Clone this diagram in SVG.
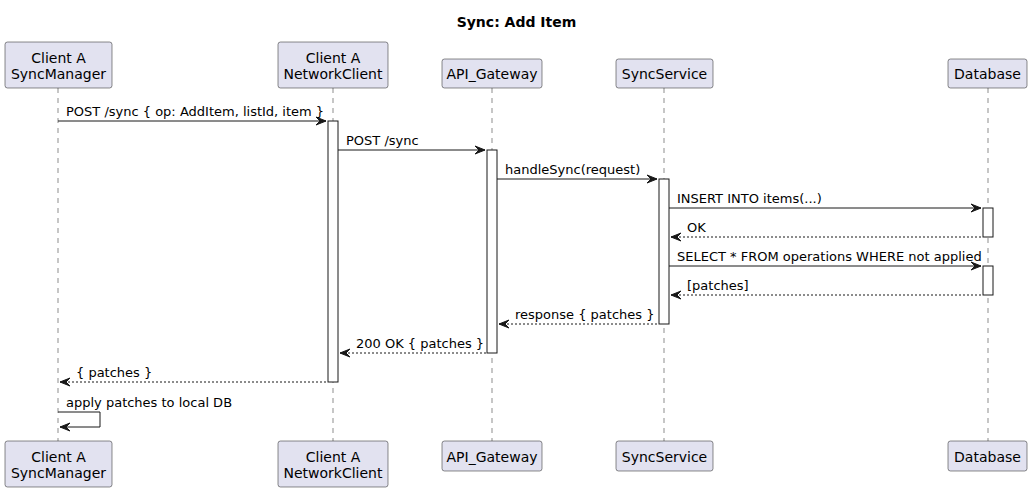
<svg xmlns="http://www.w3.org/2000/svg" width="1033" height="493" viewBox="0 0 1033 493">
<style>
  .bg{fill:#FFFFFF}
  .title{font-family:"DejaVu Sans",sans-serif;font-size:14px;font-weight:bold;fill:#000000}
  .pbox{fill:#E2E2F0;stroke:#181818;stroke-width:0.5}
  .ptext{font-family:"DejaVu Sans",sans-serif;font-size:14px;fill:#000000;text-anchor:middle}
  .life{stroke:#181818;stroke-width:0.5;stroke-dasharray:5,5;fill:none}
  .act{fill:#FFFFFF;stroke:#181818;stroke-width:1}
  .msg{stroke:#181818;stroke-width:1;fill:none}
  .ret{stroke:#181818;stroke-width:1;fill:none;stroke-dasharray:2,2}
  .head{fill:#181818;stroke:#181818;stroke-width:1}
  .mtext{font-family:"DejaVu Sans",sans-serif;font-size:13px;fill:#000000}
</style>
<rect class="bg" x="0" y="0" width="1033" height="493"/>
<text class="title" x="516.5" y="27" text-anchor="middle">Sync: Add Item</text>

<g id="lifelines">
  <line class="life" x1="58" y1="88" x2="58" y2="441"/>
  <line class="life" x1="333" y1="88" x2="333" y2="441"/>
  <line class="life" x1="492" y1="88" x2="492" y2="441"/>
  <line class="life" x1="664" y1="88" x2="664" y2="441"/>
  <line class="life" x1="988" y1="88" x2="988" y2="441"/>
</g>

<g id="SyncManager">
  <rect class="pbox" x="5" y="42" width="107" height="46" rx="2.5"/>
  <text class="ptext" x="58.5" y="62.5">Client A</text>
  <text class="ptext" x="58.5" y="79">SyncManager</text>
  <rect class="pbox" x="5" y="441" width="107" height="46" rx="2.5"/>
  <text class="ptext" x="58.5" y="461.5">Client A</text>
  <text class="ptext" x="58.5" y="478">SyncManager</text>
</g>
<g id="NetworkClient">
  <rect class="pbox" x="278" y="42" width="110" height="46" rx="2.5"/>
  <text class="ptext" x="333" y="62.5">Client A</text>
  <text class="ptext" x="333" y="79">NetworkClient</text>
  <rect class="pbox" x="278" y="441" width="110" height="46" rx="2.5"/>
  <text class="ptext" x="333" y="461.5">Client A</text>
  <text class="ptext" x="333" y="478">NetworkClient</text>
</g>
<g id="API_Gateway">
  <rect class="pbox" x="442" y="59" width="100" height="29" rx="2.5"/>
  <text class="ptext" x="492" y="78.5">API_Gateway</text>
  <rect class="pbox" x="442" y="441" width="100" height="30" rx="2.5"/>
  <text class="ptext" x="492" y="461.5">API_Gateway</text>
</g>
<g id="SyncService">
  <rect class="pbox" x="616" y="59" width="97" height="29" rx="2.5"/>
  <text class="ptext" x="664.5" y="78.5">SyncService</text>
  <rect class="pbox" x="616" y="441" width="97" height="30" rx="2.5"/>
  <text class="ptext" x="664.5" y="461.5">SyncService</text>
</g>
<g id="Database">
  <rect class="pbox" x="948" y="59" width="79" height="29" rx="2.5"/>
  <text class="ptext" x="987.5" y="78.5">Database</text>
  <rect class="pbox" x="948" y="441" width="79" height="30" rx="2.5"/>
  <text class="ptext" x="987.5" y="461.5">Database</text>
</g>

<g id="activations">
  <rect class="act" x="328" y="121" width="10" height="261"/>
  <rect class="act" x="487" y="150" width="10" height="203"/>
  <rect class="act" x="659" y="179" width="10" height="145"/>
  <rect class="act" x="983" y="208" width="10" height="29"/>
  <rect class="act" x="983" y="266" width="10" height="29"/>
</g>

<g id="connectors">
  <line class="msg" x1="58" y1="121" x2="326" y2="121"/>
  <polygon class="head" points="316,117 326,121 316,125 320,121"/>
  <text class="mtext" x="66" y="116">POST /sync { op: AddItem, listId, item }</text>

  <line class="msg" x1="338" y1="150" x2="485" y2="150"/>
  <polygon class="head" points="475,146 485,150 475,154 479,150"/>
  <text class="mtext" x="346" y="145">POST /sync</text>

  <line class="msg" x1="497" y1="179" x2="657" y2="179"/>
  <polygon class="head" points="647,175 657,179 647,183 651,179"/>
  <text class="mtext" x="505" y="174">handleSync(request)</text>

  <line class="msg" x1="669" y1="208" x2="981" y2="208"/>
  <polygon class="head" points="971,204 981,208 971,212 975,208"/>
  <text class="mtext" x="677" y="203">INSERT INTO items(...)</text>

  <line class="ret" x1="671" y1="237" x2="983" y2="237"/>
  <polygon class="head" points="681,233 671,237 681,241 677,237"/>
  <text class="mtext" x="687" y="232">OK</text>

  <line class="msg" x1="669" y1="266" x2="981" y2="266"/>
  <polygon class="head" points="971,262 981,266 971,270 975,266"/>
  <text class="mtext" x="677" y="261">SELECT * FROM operations WHERE not applied</text>

  <line class="ret" x1="671" y1="295" x2="983" y2="295"/>
  <polygon class="head" points="681,291 671,295 681,299 677,295"/>
  <text class="mtext" x="687" y="290">[patches]</text>

  <line class="ret" x1="499" y1="324" x2="659" y2="324"/>
  <polygon class="head" points="509,320 499,324 509,328 505,324"/>
  <text class="mtext" x="515" y="319">response { patches }</text>

  <line class="ret" x1="340" y1="353" x2="487" y2="353"/>
  <polygon class="head" points="350,349 340,353 350,357 346,353"/>
  <text class="mtext" x="356" y="348">200 OK { patches }</text>

  <line class="ret" x1="60" y1="382" x2="328" y2="382"/>
  <polygon class="head" points="70,378 60,382 70,386 66,382"/>
  <text class="mtext" x="76" y="377">{ patches }</text>

  <polyline class="msg" points="58,412 100,412 100,427 60,427"/>
  <polygon class="head" points="70,423 60,427 70,431 66,427"/>
  <text class="mtext" x="66" y="407">apply patches to local DB</text>
</g>
</svg>
